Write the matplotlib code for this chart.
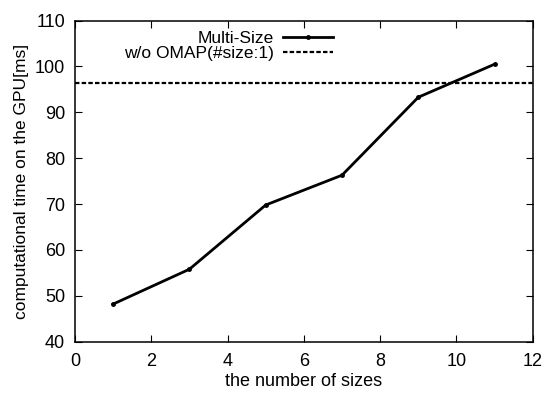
import matplotlib.pyplot as plt

plt.rcParams['font.family'] = ['Liberation Sans', 'DejaVu Sans']
plt.rcParams['font.size'] = 13

# datos
sizes = [1, 3, 5, 7, 9, 11]
multi_size = [48.2, 55.8, 69.8, 76.3, 93.3, 100.5]
baseline = 96.35

fig = plt.figure(figsize=(5.47, 3.94), dpi=100)
ax = fig.add_axes([0.137, 0.1327, 0.837, 0.815])

ax.plot(sizes, multi_size, color='black', lw=2, marker='o', markersize=2.5, label='Multi-Size')
ax.axhline(baseline, color='black', lw=1.6, linestyle=(0, (2, 1)), label='w/o OMAP(#size:1)')

ax.set_xlim(0, 12)
ax.set_ylim(40, 110)
ax.set_xticks(range(0, 13, 2))
ax.set_yticks(range(40, 111, 10))
ax.tick_params(direction='in', length=5, top=True, right=True, width=0.8, pad=8)
ax.tick_params(axis='y', pad=7)
for s in ax.spines.values():
    s.set_linewidth(1.1)

ax.set_xlabel('the number of sizes', labelpad=2)
ax.set_ylabel('computational time on the GPU[ms]', labelpad=4, fontsize=12.5)

leg = ax.legend(loc='upper right', bbox_to_anchor=(342 / 547, 1 - 22 / 394),
                bbox_transform=fig.transFigure, markerfirst=False, frameon=False,
                handlelength=2.9, borderpad=0, labelspacing=0.0, handletextpad=0.5,
                fontsize=12.5)

plt.savefig('out.png')
